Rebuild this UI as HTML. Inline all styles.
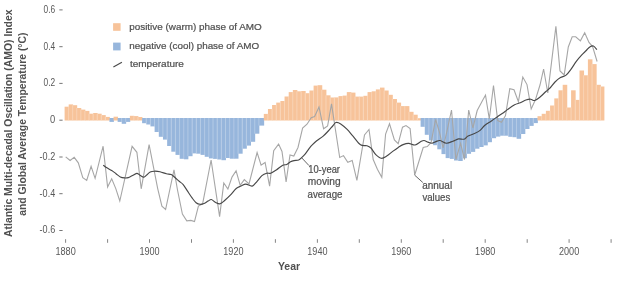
<!DOCTYPE html>
<html><head><meta charset="utf-8">
<style>
html,body{margin:0;padding:0;background:#fff;}
body{width:620px;height:281px;overflow:hidden;}
svg{display:block;}
.wrap{will-change:transform;width:620px;height:281px;}
text{font-family:"Liberation Sans",sans-serif;fill:#505050;}
.lg,.an{stroke:#505050;stroke-width:0.22px;}
.tk{font-size:10px;fill:#585858;}
.xl{font-size:10px;fill:#585858;}
.lg{font-size:9.8px;}
.an{font-size:10.4px;}
.yl{font-size:10.4px;font-weight:bold;}
.yr{font-size:10.5px;font-weight:bold;}
</style></head>
<body><div class="wrap">
<svg width="620" height="281" viewBox="0 0 620 281">
<rect width="620" height="281" fill="#fff"/>
<g><rect x="64.60" y="106.70" width="4.43" height="13.80" fill="#f7c39a"/><rect x="68.68" y="104.40" width="4.43" height="16.10" fill="#f7c39a"/><rect x="72.76" y="105.20" width="4.43" height="15.30" fill="#f7c39a"/><rect x="76.84" y="108.00" width="4.43" height="12.50" fill="#f7c39a"/><rect x="80.92" y="109.60" width="4.43" height="10.90" fill="#f7c39a"/><rect x="85.00" y="110.90" width="4.43" height="9.60" fill="#f7c39a"/><rect x="89.08" y="113.70" width="4.43" height="6.80" fill="#f7c39a"/><rect x="93.16" y="113.00" width="4.43" height="7.50" fill="#f7c39a"/><rect x="97.24" y="113.70" width="4.43" height="6.80" fill="#f7c39a"/><rect x="101.32" y="115.10" width="4.43" height="5.40" fill="#f7c39a"/><rect x="105.40" y="116.90" width="4.43" height="3.60" fill="#f7c39a"/><rect x="109.48" y="118.00" width="4.43" height="3.90" fill="#97b6dc"/><rect x="113.56" y="116.70" width="4.43" height="3.80" fill="#f7c39a"/><rect x="117.64" y="118.00" width="4.43" height="3.90" fill="#97b6dc"/><rect x="121.72" y="118.00" width="4.43" height="5.80" fill="#97b6dc"/><rect x="125.80" y="118.00" width="4.43" height="3.90" fill="#97b6dc"/><rect x="129.88" y="115.80" width="4.43" height="4.70" fill="#f7c39a"/><rect x="133.96" y="116.10" width="4.43" height="4.40" fill="#f7c39a"/><rect x="138.04" y="117.00" width="4.41" height="3.50" fill="#f7c39a"/><rect x="142.10" y="118.00" width="4.53" height="5.20" fill="#97b6dc"/><rect x="146.28" y="118.00" width="4.52" height="6.50" fill="#97b6dc"/><rect x="150.45" y="118.00" width="4.53" height="8.40" fill="#97b6dc"/><rect x="154.62" y="118.00" width="4.52" height="14.00" fill="#97b6dc"/><rect x="158.80" y="118.00" width="4.53" height="18.80" fill="#97b6dc"/><rect x="162.97" y="118.00" width="4.52" height="21.60" fill="#97b6dc"/><rect x="167.15" y="118.00" width="4.53" height="28.00" fill="#97b6dc"/><rect x="171.32" y="118.00" width="4.53" height="33.70" fill="#97b6dc"/><rect x="175.50" y="118.00" width="4.52" height="36.90" fill="#97b6dc"/><rect x="179.67" y="118.00" width="4.53" height="40.80" fill="#97b6dc"/><rect x="183.85" y="118.00" width="4.52" height="41.30" fill="#97b6dc"/><rect x="188.02" y="118.00" width="4.53" height="38.20" fill="#97b6dc"/><rect x="192.20" y="118.00" width="4.53" height="35.40" fill="#97b6dc"/><rect x="196.38" y="118.00" width="4.52" height="35.70" fill="#97b6dc"/><rect x="200.55" y="118.00" width="4.53" height="36.90" fill="#97b6dc"/><rect x="204.72" y="118.00" width="4.52" height="38.80" fill="#97b6dc"/><rect x="208.90" y="118.00" width="4.53" height="40.40" fill="#97b6dc"/><rect x="213.07" y="118.00" width="4.53" height="40.90" fill="#97b6dc"/><rect x="217.25" y="118.00" width="4.53" height="41.50" fill="#97b6dc"/><rect x="221.43" y="118.00" width="4.52" height="42.20" fill="#97b6dc"/><rect x="225.60" y="118.00" width="4.52" height="40.00" fill="#97b6dc"/><rect x="229.77" y="118.00" width="4.53" height="40.70" fill="#97b6dc"/><rect x="233.95" y="118.00" width="4.53" height="40.70" fill="#97b6dc"/><rect x="238.12" y="118.00" width="4.52" height="35.70" fill="#97b6dc"/><rect x="242.30" y="118.00" width="4.53" height="30.70" fill="#97b6dc"/><rect x="246.47" y="118.00" width="4.52" height="27.60" fill="#97b6dc"/><rect x="250.65" y="118.00" width="4.53" height="23.80" fill="#97b6dc"/><rect x="254.82" y="118.00" width="4.53" height="15.70" fill="#97b6dc"/><rect x="259.00" y="118.00" width="5.15" height="7.60" fill="#97b6dc"/><rect x="263.80" y="113.90" width="4.50" height="6.60" fill="#f7c39a"/><rect x="267.95" y="109.00" width="4.50" height="11.50" fill="#f7c39a"/><rect x="272.10" y="105.00" width="4.50" height="15.50" fill="#f7c39a"/><rect x="276.25" y="102.60" width="4.50" height="17.90" fill="#f7c39a"/><rect x="280.40" y="101.00" width="4.50" height="19.50" fill="#f7c39a"/><rect x="284.55" y="96.50" width="4.50" height="24.00" fill="#f7c39a"/><rect x="288.70" y="92.10" width="4.50" height="28.40" fill="#f7c39a"/><rect x="292.85" y="90.00" width="4.50" height="30.50" fill="#f7c39a"/><rect x="297.00" y="91.30" width="4.50" height="29.20" fill="#f7c39a"/><rect x="301.15" y="91.00" width="4.50" height="29.50" fill="#f7c39a"/><rect x="305.30" y="93.20" width="4.50" height="27.30" fill="#f7c39a"/><rect x="309.45" y="90.50" width="4.50" height="30.00" fill="#f7c39a"/><rect x="313.60" y="85.60" width="4.50" height="34.90" fill="#f7c39a"/><rect x="317.75" y="85.20" width="4.50" height="35.30" fill="#f7c39a"/><rect x="321.90" y="89.70" width="4.50" height="30.80" fill="#f7c39a"/><rect x="326.05" y="95.30" width="4.50" height="25.20" fill="#f7c39a"/><rect x="330.20" y="97.50" width="4.50" height="23.00" fill="#f7c39a"/><rect x="334.35" y="97.40" width="4.50" height="23.10" fill="#f7c39a"/><rect x="338.50" y="96.10" width="4.50" height="24.40" fill="#f7c39a"/><rect x="342.65" y="95.60" width="4.50" height="24.90" fill="#f7c39a"/><rect x="346.80" y="92.10" width="4.50" height="28.40" fill="#f7c39a"/><rect x="350.95" y="92.60" width="4.50" height="27.90" fill="#f7c39a"/><rect x="355.10" y="96.60" width="4.50" height="23.90" fill="#f7c39a"/><rect x="359.25" y="96.60" width="4.50" height="23.90" fill="#f7c39a"/><rect x="363.40" y="95.80" width="4.50" height="24.70" fill="#f7c39a"/><rect x="367.55" y="92.10" width="4.50" height="28.40" fill="#f7c39a"/><rect x="371.70" y="91.30" width="4.50" height="29.20" fill="#f7c39a"/><rect x="375.85" y="89.40" width="4.50" height="31.10" fill="#f7c39a"/><rect x="380.00" y="87.60" width="4.50" height="32.90" fill="#f7c39a"/><rect x="384.15" y="90.50" width="4.50" height="30.00" fill="#f7c39a"/><rect x="388.30" y="94.80" width="4.50" height="25.70" fill="#f7c39a"/><rect x="392.45" y="99.00" width="4.50" height="21.50" fill="#f7c39a"/><rect x="396.60" y="102.60" width="4.50" height="17.90" fill="#f7c39a"/><rect x="400.75" y="106.10" width="4.50" height="14.40" fill="#f7c39a"/><rect x="404.90" y="106.10" width="4.50" height="14.40" fill="#f7c39a"/><rect x="409.05" y="111.80" width="4.50" height="8.70" fill="#f7c39a"/><rect x="413.20" y="114.70" width="4.50" height="5.80" fill="#f7c39a"/><rect x="417.35" y="118.20" width="3.60" height="2.30" fill="#f7c39a"/><rect x="420.60" y="118.00" width="4.53" height="8.80" fill="#97b6dc"/><rect x="424.78" y="118.00" width="4.53" height="16.80" fill="#97b6dc"/><rect x="428.95" y="118.00" width="4.52" height="22.40" fill="#97b6dc"/><rect x="433.12" y="118.00" width="4.53" height="27.20" fill="#97b6dc"/><rect x="437.30" y="118.00" width="4.53" height="31.30" fill="#97b6dc"/><rect x="441.48" y="118.00" width="4.53" height="36.10" fill="#97b6dc"/><rect x="445.65" y="118.00" width="4.53" height="40.10" fill="#97b6dc"/><rect x="449.83" y="118.00" width="4.52" height="40.90" fill="#97b6dc"/><rect x="454.00" y="118.00" width="4.53" height="42.50" fill="#97b6dc"/><rect x="458.18" y="118.00" width="4.53" height="43.00" fill="#97b6dc"/><rect x="462.35" y="118.00" width="4.53" height="40.20" fill="#97b6dc"/><rect x="466.53" y="118.00" width="4.53" height="35.80" fill="#97b6dc"/><rect x="470.70" y="118.00" width="4.52" height="33.90" fill="#97b6dc"/><rect x="474.88" y="118.00" width="4.53" height="30.70" fill="#97b6dc"/><rect x="479.05" y="118.00" width="4.53" height="29.00" fill="#97b6dc"/><rect x="483.23" y="118.00" width="4.53" height="27.40" fill="#97b6dc"/><rect x="487.40" y="118.00" width="4.53" height="24.20" fill="#97b6dc"/><rect x="491.58" y="118.00" width="4.52" height="20.20" fill="#97b6dc"/><rect x="495.75" y="118.00" width="4.53" height="18.60" fill="#97b6dc"/><rect x="499.93" y="118.00" width="4.53" height="17.70" fill="#97b6dc"/><rect x="504.10" y="118.00" width="4.53" height="17.70" fill="#97b6dc"/><rect x="508.28" y="118.00" width="4.53" height="18.80" fill="#97b6dc"/><rect x="512.45" y="118.00" width="4.52" height="19.20" fill="#97b6dc"/><rect x="516.62" y="118.00" width="4.52" height="20.80" fill="#97b6dc"/><rect x="520.80" y="118.00" width="4.53" height="16.00" fill="#97b6dc"/><rect x="524.98" y="118.00" width="4.52" height="11.00" fill="#97b6dc"/><rect x="529.15" y="118.00" width="4.53" height="7.90" fill="#97b6dc"/><rect x="533.33" y="118.00" width="4.52" height="5.10" fill="#97b6dc"/><rect x="537.50" y="116.20" width="4.55" height="4.30" fill="#f7c39a"/><rect x="541.70" y="113.80" width="4.55" height="6.70" fill="#f7c39a"/><rect x="545.90" y="110.80" width="4.55" height="9.70" fill="#f7c39a"/><rect x="550.10" y="105.50" width="4.55" height="15.00" fill="#f7c39a"/><rect x="554.30" y="98.40" width="4.55" height="22.10" fill="#f7c39a"/><rect x="558.50" y="90.30" width="4.55" height="30.20" fill="#f7c39a"/><rect x="562.70" y="84.80" width="4.55" height="35.70" fill="#f7c39a"/><rect x="566.90" y="107.50" width="4.55" height="13.00" fill="#f7c39a"/><rect x="571.10" y="90.30" width="4.55" height="30.20" fill="#f7c39a"/><rect x="575.30" y="99.90" width="4.55" height="20.60" fill="#f7c39a"/><rect x="579.50" y="70.50" width="4.55" height="50.00" fill="#f7c39a"/><rect x="583.70" y="75.30" width="4.55" height="45.20" fill="#f7c39a"/><rect x="587.90" y="59.30" width="4.55" height="61.20" fill="#f7c39a"/><rect x="592.10" y="64.10" width="4.55" height="56.40" fill="#f7c39a"/><rect x="596.30" y="84.80" width="4.55" height="35.70" fill="#f7c39a"/><rect x="600.50" y="86.50" width="3.90" height="34.00" fill="#f7c39a"/><g stroke="#fff" stroke-width="0.6" stroke-opacity="0.45"><line x1="68.58" y1="106.70" x2="68.58" y2="120.50"/><line x1="72.66" y1="105.20" x2="72.66" y2="120.50"/><line x1="76.74" y1="108.00" x2="76.74" y2="120.50"/><line x1="80.82" y1="109.60" x2="80.82" y2="120.50"/><line x1="84.90" y1="110.90" x2="84.90" y2="120.50"/><line x1="88.98" y1="113.70" x2="88.98" y2="120.50"/><line x1="93.06" y1="113.70" x2="93.06" y2="120.50"/><line x1="97.14" y1="113.70" x2="97.14" y2="120.50"/><line x1="101.22" y1="115.10" x2="101.22" y2="120.50"/><line x1="105.30" y1="116.90" x2="105.30" y2="120.50"/><line x1="121.62" y1="118.00" x2="121.62" y2="121.90"/><line x1="125.70" y1="118.00" x2="125.70" y2="121.90"/><line x1="133.86" y1="116.10" x2="133.86" y2="120.50"/><line x1="137.94" y1="117.00" x2="137.94" y2="120.50"/><line x1="146.18" y1="118.00" x2="146.18" y2="123.20"/><line x1="150.35" y1="118.00" x2="150.35" y2="124.50"/><line x1="154.53" y1="118.00" x2="154.53" y2="126.40"/><line x1="158.70" y1="118.00" x2="158.70" y2="132.00"/><line x1="162.88" y1="118.00" x2="162.88" y2="136.80"/><line x1="167.05" y1="118.00" x2="167.05" y2="139.60"/><line x1="171.22" y1="118.00" x2="171.22" y2="146.00"/><line x1="175.40" y1="118.00" x2="175.40" y2="151.70"/><line x1="179.57" y1="118.00" x2="179.57" y2="154.90"/><line x1="183.75" y1="118.00" x2="183.75" y2="158.80"/><line x1="187.92" y1="118.00" x2="187.92" y2="156.20"/><line x1="192.10" y1="118.00" x2="192.10" y2="153.40"/><line x1="196.28" y1="118.00" x2="196.28" y2="153.40"/><line x1="200.45" y1="118.00" x2="200.45" y2="153.70"/><line x1="204.62" y1="118.00" x2="204.62" y2="154.90"/><line x1="208.80" y1="118.00" x2="208.80" y2="156.80"/><line x1="212.97" y1="118.00" x2="212.97" y2="158.40"/><line x1="217.15" y1="118.00" x2="217.15" y2="158.90"/><line x1="221.33" y1="118.00" x2="221.33" y2="159.50"/><line x1="225.50" y1="118.00" x2="225.50" y2="158.00"/><line x1="229.67" y1="118.00" x2="229.67" y2="158.00"/><line x1="233.85" y1="118.00" x2="233.85" y2="158.70"/><line x1="238.03" y1="118.00" x2="238.03" y2="153.70"/><line x1="242.20" y1="118.00" x2="242.20" y2="148.70"/><line x1="246.38" y1="118.00" x2="246.38" y2="145.60"/><line x1="250.55" y1="118.00" x2="250.55" y2="141.80"/><line x1="254.72" y1="118.00" x2="254.72" y2="133.70"/><line x1="258.90" y1="118.00" x2="258.90" y2="125.60"/><line x1="267.85" y1="113.90" x2="267.85" y2="120.50"/><line x1="272.00" y1="109.00" x2="272.00" y2="120.50"/><line x1="276.15" y1="105.00" x2="276.15" y2="120.50"/><line x1="280.30" y1="102.60" x2="280.30" y2="120.50"/><line x1="284.45" y1="101.00" x2="284.45" y2="120.50"/><line x1="288.60" y1="96.50" x2="288.60" y2="120.50"/><line x1="292.75" y1="92.10" x2="292.75" y2="120.50"/><line x1="296.90" y1="91.30" x2="296.90" y2="120.50"/><line x1="301.05" y1="91.30" x2="301.05" y2="120.50"/><line x1="305.20" y1="93.20" x2="305.20" y2="120.50"/><line x1="309.35" y1="93.20" x2="309.35" y2="120.50"/><line x1="313.50" y1="90.50" x2="313.50" y2="120.50"/><line x1="317.65" y1="85.60" x2="317.65" y2="120.50"/><line x1="321.80" y1="89.70" x2="321.80" y2="120.50"/><line x1="325.95" y1="95.30" x2="325.95" y2="120.50"/><line x1="330.10" y1="97.50" x2="330.10" y2="120.50"/><line x1="334.25" y1="97.50" x2="334.25" y2="120.50"/><line x1="338.40" y1="97.40" x2="338.40" y2="120.50"/><line x1="342.55" y1="96.10" x2="342.55" y2="120.50"/><line x1="346.70" y1="95.60" x2="346.70" y2="120.50"/><line x1="350.85" y1="92.60" x2="350.85" y2="120.50"/><line x1="355.00" y1="96.60" x2="355.00" y2="120.50"/><line x1="359.15" y1="96.60" x2="359.15" y2="120.50"/><line x1="363.30" y1="96.60" x2="363.30" y2="120.50"/><line x1="367.45" y1="95.80" x2="367.45" y2="120.50"/><line x1="371.60" y1="92.10" x2="371.60" y2="120.50"/><line x1="375.75" y1="91.30" x2="375.75" y2="120.50"/><line x1="379.90" y1="89.40" x2="379.90" y2="120.50"/><line x1="384.05" y1="90.50" x2="384.05" y2="120.50"/><line x1="388.20" y1="94.80" x2="388.20" y2="120.50"/><line x1="392.35" y1="99.00" x2="392.35" y2="120.50"/><line x1="396.50" y1="102.60" x2="396.50" y2="120.50"/><line x1="400.65" y1="106.10" x2="400.65" y2="120.50"/><line x1="404.80" y1="106.10" x2="404.80" y2="120.50"/><line x1="408.95" y1="111.80" x2="408.95" y2="120.50"/><line x1="413.10" y1="114.70" x2="413.10" y2="120.50"/><line x1="417.25" y1="118.20" x2="417.25" y2="120.50"/><line x1="424.68" y1="118.00" x2="424.68" y2="126.80"/><line x1="428.85" y1="118.00" x2="428.85" y2="134.80"/><line x1="433.02" y1="118.00" x2="433.02" y2="140.40"/><line x1="437.20" y1="118.00" x2="437.20" y2="145.20"/><line x1="441.38" y1="118.00" x2="441.38" y2="149.30"/><line x1="445.55" y1="118.00" x2="445.55" y2="154.10"/><line x1="449.73" y1="118.00" x2="449.73" y2="158.10"/><line x1="453.90" y1="118.00" x2="453.90" y2="158.90"/><line x1="458.07" y1="118.00" x2="458.07" y2="160.50"/><line x1="462.25" y1="118.00" x2="462.25" y2="158.20"/><line x1="466.43" y1="118.00" x2="466.43" y2="153.80"/><line x1="470.60" y1="118.00" x2="470.60" y2="151.90"/><line x1="474.77" y1="118.00" x2="474.77" y2="148.70"/><line x1="478.95" y1="118.00" x2="478.95" y2="147.00"/><line x1="483.12" y1="118.00" x2="483.12" y2="145.40"/><line x1="487.30" y1="118.00" x2="487.30" y2="142.20"/><line x1="491.48" y1="118.00" x2="491.48" y2="138.20"/><line x1="495.65" y1="118.00" x2="495.65" y2="136.60"/><line x1="499.82" y1="118.00" x2="499.82" y2="135.70"/><line x1="504.00" y1="118.00" x2="504.00" y2="135.70"/><line x1="508.18" y1="118.00" x2="508.18" y2="135.70"/><line x1="512.35" y1="118.00" x2="512.35" y2="136.80"/><line x1="516.52" y1="118.00" x2="516.52" y2="137.20"/><line x1="520.70" y1="118.00" x2="520.70" y2="134.00"/><line x1="524.88" y1="118.00" x2="524.88" y2="129.00"/><line x1="529.05" y1="118.00" x2="529.05" y2="125.90"/><line x1="533.23" y1="118.00" x2="533.23" y2="123.10"/><line x1="541.60" y1="116.20" x2="541.60" y2="120.50"/><line x1="545.80" y1="113.80" x2="545.80" y2="120.50"/><line x1="550.00" y1="110.80" x2="550.00" y2="120.50"/><line x1="554.20" y1="105.50" x2="554.20" y2="120.50"/><line x1="558.40" y1="98.40" x2="558.40" y2="120.50"/><line x1="562.60" y1="90.30" x2="562.60" y2="120.50"/><line x1="566.80" y1="107.50" x2="566.80" y2="120.50"/><line x1="571.00" y1="107.50" x2="571.00" y2="120.50"/><line x1="575.20" y1="99.90" x2="575.20" y2="120.50"/><line x1="579.40" y1="99.90" x2="579.40" y2="120.50"/><line x1="583.60" y1="75.30" x2="583.60" y2="120.50"/><line x1="587.80" y1="75.30" x2="587.80" y2="120.50"/><line x1="592.00" y1="64.10" x2="592.00" y2="120.50"/><line x1="596.20" y1="84.80" x2="596.20" y2="120.50"/><line x1="600.40" y1="86.50" x2="600.40" y2="120.50"/></g></g>
<polyline points="65.7,156.9 70.1,160.5 74.2,157.3 78.3,162.8 82.8,177.7 86.7,180.4 91.1,166.3 95.1,178.3 103.1,146.2 107.6,187.0 111.7,178.8 115.8,188.6 119.8,201.0 132.1,146.3 136.9,152.3 141.2,188.8 149.1,144.6 157.7,188.6 161.9,206.1 165.6,209.5 174.0,169.8 177.5,190.0 182.4,214.1 186.8,220.9 190.9,220.4 194.5,221.6 198.4,206.1 202.6,203.8 211.1,160.0 219.6,216.6 223.8,183.0 227.9,189.0 232.0,177.1 236.1,170.8 240.2,185.3 244.3,179.6 249.0,184.0 257.1,152.5 261.1,165.2 265.1,162.5 269.6,186.1 273.7,150.6 278.6,144.1 282.0,151.5 286.1,182.0 290.0,155.0 293.8,156.0 298.0,147.5 302.6,128.0 307.0,124.2 311.2,117.8 314.6,116.6 319.0,107.0 323.6,128.8 327.6,126.0 331.5,103.8 339.7,157.5 343.5,155.6 347.8,162.2 352.2,160.4 356.9,180.3 364.5,135.0 369.0,129.5 373.2,159.5 377.4,169.3 381.8,177.3 385.6,134.0 389.5,123.8 394.4,140.0 398.2,143.7 402.5,127.2 406.0,125.6 410.1,128.5 414.7,175.0 423.2,147.5 427.3,146.5 431.1,142.4 435.6,119.3 439.5,132.5 443.1,148.0 447.3,129.7 451.5,110.0 455.9,159.5 460.6,143.4 464.5,159.5 468.7,110.0 472.9,128.0 477.2,110.5 482.8,100.0 485.5,95.2 489.3,119.0 493.5,85.5 497.7,120.6 501.5,122.2 505.5,115.5 509.8,88.7 514.0,89.7 518.4,101.7 522.8,77.0 527.0,84.6 531.2,109.0 535.4,99.8 540.0,85.0 543.6,69.0 547.8,93.0 555.9,26.4 560.0,71.0 564.2,75.0 568.3,47.0 572.2,36.8 575.7,36.8 580.4,40.8 584.7,32.8 589.0,42.4 592.6,46.6 597.1,61.5" fill="none" stroke="#a6a6a6" stroke-width="1.1" stroke-linejoin="miter"/>
<path d="M103.20,165.10 C103.73,165.52 104.98,166.70 106.40,167.60 C107.82,168.50 110.10,169.48 111.70,170.50 C113.30,171.52 114.57,172.63 116.00,173.70 C117.43,174.77 118.88,176.20 120.30,176.90 C121.72,177.60 123.17,177.78 124.50,177.90 C125.83,178.02 127.05,177.95 128.30,177.60 C129.55,177.25 130.58,176.50 132.00,175.80 C133.42,175.10 135.47,173.48 136.80,173.40 C138.13,173.32 138.83,174.67 140.00,175.30 C141.17,175.93 142.63,177.30 143.80,177.20 C144.97,177.10 145.93,175.58 147.00,174.70 C148.07,173.82 148.97,172.48 150.20,171.90 C151.43,171.32 152.77,171.23 154.40,171.20 C156.03,171.17 158.00,171.27 160.00,171.70 C162.00,172.13 164.53,173.32 166.40,173.80 C168.27,174.28 169.73,173.93 171.20,174.60 C172.67,175.27 173.87,176.68 175.20,177.80 C176.53,178.92 177.87,180.17 179.20,181.30 C180.53,182.43 181.87,183.05 183.20,184.60 C184.53,186.15 185.72,188.38 187.20,190.60 C188.68,192.82 190.62,195.88 192.10,197.90 C193.58,199.92 194.77,201.63 196.10,202.70 C197.43,203.77 198.77,204.17 200.10,204.30 C201.43,204.43 202.77,204.03 204.10,203.50 C205.43,202.97 206.90,201.77 208.10,201.10 C209.30,200.43 210.10,199.32 211.30,199.50 C212.50,199.68 213.83,201.48 215.30,202.20 C216.77,202.92 218.50,204.12 220.10,203.80 C221.70,203.48 223.20,201.73 224.90,200.30 C226.60,198.87 228.42,197.17 230.30,195.20 C232.18,193.23 234.42,190.02 236.20,188.50 C237.98,186.98 239.40,186.83 241.00,186.10 C242.60,185.37 243.93,184.10 245.80,184.10 C247.67,184.10 250.32,186.57 252.20,186.10 C254.08,185.63 255.48,183.05 257.10,181.30 C258.72,179.55 260.30,176.95 261.90,175.60 C263.50,174.25 265.23,173.60 266.70,173.20 C268.17,172.80 269.10,173.73 270.70,173.20 C272.30,172.67 274.30,171.33 276.30,170.00 C278.30,168.67 280.97,166.12 282.70,165.20 C284.43,164.28 285.40,165.07 286.70,164.50 C288.00,163.93 289.28,162.45 290.50,161.80 C291.72,161.15 292.63,160.90 294.00,160.60 C295.37,160.30 297.38,160.53 298.70,160.00 C300.02,159.47 300.80,158.43 301.90,157.40 C303.00,156.37 304.05,155.33 305.30,153.80 C306.55,152.27 308.28,149.63 309.40,148.20 C310.52,146.77 310.78,146.43 312.00,145.20 C313.22,143.97 314.88,142.27 316.70,140.80 C318.52,139.33 320.97,138.03 322.90,136.40 C324.83,134.77 326.67,132.73 328.30,131.00 C329.93,129.27 331.43,127.42 332.70,126.00 C333.97,124.58 334.57,122.85 335.90,122.50 C337.23,122.15 338.87,122.78 340.70,123.90 C342.53,125.02 344.82,127.12 346.90,129.20 C348.98,131.28 350.93,133.80 353.20,136.40 C355.47,139.00 358.20,143.23 360.50,144.80 C362.80,146.37 365.25,145.23 367.00,145.80 C368.75,146.37 369.53,146.73 371.00,148.20 C372.47,149.67 374.07,152.92 375.80,154.60 C377.53,156.28 379.52,158.10 381.40,158.30 C383.28,158.50 385.22,156.95 387.10,155.80 C388.98,154.65 390.83,152.80 392.70,151.40 C394.57,150.00 396.57,148.53 398.30,147.40 C400.03,146.27 401.37,145.27 403.10,144.60 C404.83,143.93 406.70,143.33 408.70,143.40 C410.70,143.47 413.13,145.27 415.10,145.00 C417.07,144.73 419.02,142.55 420.50,141.80 C421.98,141.05 422.75,140.45 424.00,140.50 C425.25,140.55 426.67,141.65 428.00,142.10 C429.33,142.55 430.67,143.28 432.00,143.20 C433.33,143.12 434.67,142.05 436.00,141.60 C437.33,141.15 438.27,140.23 440.00,140.50 C441.73,140.77 444.25,143.08 446.40,143.20 C448.55,143.32 450.88,141.92 452.90,141.20 C454.92,140.48 456.63,139.23 458.50,138.90 C460.37,138.57 462.50,139.68 464.10,139.20 C465.70,138.72 466.37,136.93 468.10,136.00 C469.83,135.07 472.50,134.53 474.50,133.60 C476.50,132.67 478.37,131.80 480.10,130.40 C481.83,129.00 483.02,126.78 484.90,125.20 C486.78,123.62 489.25,122.35 491.40,120.90 C493.55,119.45 495.93,117.77 497.80,116.50 C499.67,115.23 501.00,114.45 502.60,113.30 C504.20,112.15 505.40,111.02 507.40,109.60 C509.40,108.18 512.45,105.93 514.60,104.80 C516.75,103.67 518.42,103.60 520.30,102.80 C522.18,102.00 524.17,100.60 525.90,100.00 C527.63,99.40 529.23,99.12 530.70,99.20 C532.17,99.28 533.10,100.90 534.70,100.50 C536.30,100.10 538.43,98.30 540.30,96.80 C542.17,95.30 544.20,93.05 545.90,91.50 C547.60,89.95 548.98,89.08 550.50,87.50 C552.02,85.92 553.33,83.67 555.00,82.00 C556.67,80.33 558.70,78.60 560.50,77.50 C562.30,76.40 564.03,76.80 565.80,75.40 C567.57,74.00 569.32,71.48 571.10,69.10 C572.88,66.72 574.72,63.47 576.50,61.10 C578.28,58.73 580.17,56.67 581.80,54.90 C583.43,53.13 584.97,51.83 586.30,50.50 C587.63,49.17 588.62,47.65 589.80,46.90 C590.98,46.15 592.22,45.55 593.40,46.00 C594.58,46.45 596.32,49.00 596.90,49.60" fill="none" stroke="#484848" stroke-width="1.15" stroke-linejoin="round"/>
<text x="55.2" y="12.7" text-anchor="end" class="tk" textLength="11.6" lengthAdjust="spacingAndGlyphs">0.6</text><line x1="59.3" y1="9.9" x2="62.6" y2="9.9" stroke="#666" stroke-width="0.9"/><text x="55.2" y="49.5" text-anchor="end" class="tk" textLength="11.6" lengthAdjust="spacingAndGlyphs">0.4</text><line x1="59.3" y1="46.7" x2="62.6" y2="46.7" stroke="#666" stroke-width="0.9"/><text x="55.2" y="86.2" text-anchor="end" class="tk" textLength="11.6" lengthAdjust="spacingAndGlyphs">0.2</text><line x1="59.3" y1="83.4" x2="62.6" y2="83.4" stroke="#666" stroke-width="0.9"/><text x="55.2" y="123.0" text-anchor="end" class="tk" textLength="5.2" lengthAdjust="spacingAndGlyphs">0</text><line x1="59.3" y1="120.2" x2="62.6" y2="120.2" stroke="#666" stroke-width="0.9"/><text x="55.2" y="159.8" text-anchor="end" class="tk" textLength="15.6" lengthAdjust="spacingAndGlyphs">-0.2</text><line x1="59.3" y1="157.0" x2="62.6" y2="157.0" stroke="#666" stroke-width="0.9"/><text x="55.2" y="196.5" text-anchor="end" class="tk" textLength="15.6" lengthAdjust="spacingAndGlyphs">-0.4</text><line x1="59.3" y1="193.7" x2="62.6" y2="193.7" stroke="#666" stroke-width="0.9"/><text x="55.2" y="233.3" text-anchor="end" class="tk" textLength="15.6" lengthAdjust="spacingAndGlyphs">-0.6</text><line x1="59.3" y1="230.5" x2="62.6" y2="230.5" stroke="#666" stroke-width="0.9"/>
<line x1="65.6" y1="239.2" x2="65.6" y2="242.8" stroke="#777" stroke-width="0.9"/><text x="65.6" y="255" text-anchor="middle" class="xl" textLength="20.2" lengthAdjust="spacingAndGlyphs">1880</text><line x1="107.6" y1="239.2" x2="107.6" y2="242.8" stroke="#777" stroke-width="0.9"/><line x1="149.5" y1="239.2" x2="149.5" y2="242.8" stroke="#777" stroke-width="0.9"/><text x="149.5" y="255" text-anchor="middle" class="xl" textLength="20.2" lengthAdjust="spacingAndGlyphs">1900</text><line x1="191.5" y1="239.2" x2="191.5" y2="242.8" stroke="#777" stroke-width="0.9"/><line x1="233.4" y1="239.2" x2="233.4" y2="242.8" stroke="#777" stroke-width="0.9"/><text x="233.4" y="255" text-anchor="middle" class="xl" textLength="20.2" lengthAdjust="spacingAndGlyphs">1920</text><line x1="275.4" y1="239.2" x2="275.4" y2="242.8" stroke="#777" stroke-width="0.9"/><line x1="317.4" y1="239.2" x2="317.4" y2="242.8" stroke="#777" stroke-width="0.9"/><text x="317.4" y="255" text-anchor="middle" class="xl" textLength="20.2" lengthAdjust="spacingAndGlyphs">1940</text><line x1="359.3" y1="239.2" x2="359.3" y2="242.8" stroke="#777" stroke-width="0.9"/><line x1="401.3" y1="239.2" x2="401.3" y2="242.8" stroke="#777" stroke-width="0.9"/><text x="401.3" y="255" text-anchor="middle" class="xl" textLength="20.2" lengthAdjust="spacingAndGlyphs">1960</text><line x1="443.2" y1="239.2" x2="443.2" y2="242.8" stroke="#777" stroke-width="0.9"/><line x1="485.2" y1="239.2" x2="485.2" y2="242.8" stroke="#777" stroke-width="0.9"/><text x="485.2" y="255" text-anchor="middle" class="xl" textLength="20.2" lengthAdjust="spacingAndGlyphs">1980</text><line x1="527.2" y1="239.2" x2="527.2" y2="242.8" stroke="#777" stroke-width="0.9"/><line x1="569.1" y1="239.2" x2="569.1" y2="242.8" stroke="#777" stroke-width="0.9"/><text x="569.1" y="255" text-anchor="middle" class="xl" textLength="20.2" lengthAdjust="spacingAndGlyphs">2000</text><line x1="611.1" y1="239.2" x2="611.1" y2="242.8" stroke="#777" stroke-width="0.9"/>
<text x="289" y="269.8" text-anchor="middle" class="yr">Year</text>
<text transform="translate(12.4,123.2) rotate(-90)" text-anchor="middle" class="yl">Atlantic Multi-decadal Oscillation (AMO) Index</text>
<text transform="translate(25.6,124.2) rotate(-90)" text-anchor="middle" class="yl">and Global Average Temperature (°C)</text>
<rect x="113.1" y="23.2" width="7.5" height="7.6" fill="#f7c39a"/>
<rect x="113.1" y="42.6" width="7.5" height="7.8" fill="#97b6dc"/>
<line x1="113.4" y1="66.9" x2="121.9" y2="62.3" stroke="#484848" stroke-width="1.15"/>
<text x="129.2" y="29.7" class="lg" textLength="132.6" lengthAdjust="spacingAndGlyphs">positive (warm) phase of AMO</text>
<text x="129.2" y="48.7" class="lg" textLength="130" lengthAdjust="spacingAndGlyphs">negative (cool) phase of AMO</text>
<text x="129.9" y="66.8" class="lg" textLength="54" lengthAdjust="spacingAndGlyphs">temperature</text>
<line x1="301.5" y1="157.6" x2="309" y2="165.6" stroke="#555" stroke-width="0.9"/>
<text x="308.2" y="173.3" class="an" textLength="31.8" lengthAdjust="spacingAndGlyphs">10-year</text>
<text x="307.8" y="185.1" class="an" textLength="32.8" lengthAdjust="spacingAndGlyphs">moving</text>
<text x="307.5" y="197.6" class="an" textLength="35" lengthAdjust="spacingAndGlyphs">average</text>
<line x1="414.6" y1="175.1" x2="422.8" y2="182.5" stroke="#555" stroke-width="0.9"/>
<text x="422.2" y="188.7" class="an" textLength="29.9" lengthAdjust="spacingAndGlyphs">annual</text>
<text x="422.4" y="200.5" class="an" textLength="27.9" lengthAdjust="spacingAndGlyphs">values</text>
</svg></div>
</body></html>
